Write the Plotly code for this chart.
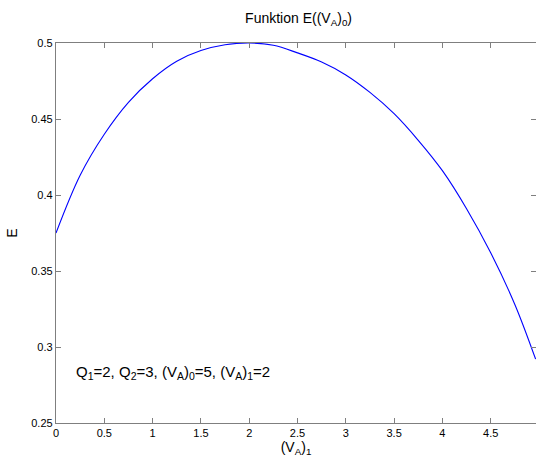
import plotly.graph_objects as go

# Data
va1 = [0.0, 0.25, 0.5, 0.75, 1.0, 1.25, 1.5, 1.75, 2.0, 2.25, 2.5, 2.75, 3.0, 3.25,
       3.5, 3.75, 4.0, 4.25, 4.5, 4.75, 4.965]
energy = [0.375, 0.413, 0.440, 0.461, 0.4765, 0.488, 0.495, 0.4988, 0.500, 0.4985, 0.4935, 0.4875, 0.479, 0.4675,
          0.4535, 0.436, 0.416, 0.391, 0.362, 0.328, 0.292]

x_ticks = [0, 0.5, 1, 1.5, 2, 2.5, 3, 3.5, 4, 4.5]
x_tick_labels = ["0", "0.5", "1", "1.5", "2", "2.5", "3", "3.5", "4", "4.5"]
y_ticks = [0.25, 0.3, 0.35, 0.4, 0.45, 0.5]
y_tick_labels = ["0.25", "0.3", "0.35", "0.4", "0.45", "0.5"]

title_text = "Funktion E((V<sub>A</sub>)<sub>0</sub>)"
x_label = "(V<sub>A</sub>)<sub>1</sub>"
y_label = "E"
note_text = "Q<sub>1</sub>=2, Q<sub>2</sub>=3, (V<sub>A</sub>)<sub>0</sub>=5, (V<sub>A</sub>)<sub>1</sub>=2"

FONT = "Liberation Sans, Arial, Helvetica, sans-serif"
AXCOL = "#7f7f7f"

fig = go.Figure()
fig.add_trace(go.Scatter(x=va1, y=energy, mode="lines",
                         line=dict(color="#0000ff", width=1.1, shape="spline", smoothing=1.0),
                         showlegend=False, hoverinfo="skip"))
fig.add_trace(go.Scatter(x=[va1[0]], y=[energy[0]], mode="markers", yaxis="y2",
                         marker=dict(opacity=0), showlegend=False, hoverinfo="skip"))

fig.update_layout(
    width=536, height=457,
    margin=dict(l=56, r=0, t=43, b=34),
    paper_bgcolor="white", plot_bgcolor="white",
    font=dict(family=FONT, size=11, color="black"),
    title=dict(text=title_text, x=0.557, xanchor="center", y=1 - 18 / 457, yanchor="middle",
               font=dict(size=14, family=FONT, color="black")),
    xaxis=dict(range=[0, 4.969], tickvals=x_ticks, ticktext=x_tick_labels,
               showgrid=False, zeroline=False, showline=True, linecolor=AXCOL, linewidth=1.3,
               mirror="ticks", ticks="inside", ticklen=5, tickcolor=AXCOL, tickwidth=1,
               tickfont=dict(size=11, family=FONT, color="black"),
               title=dict(text=x_label, font=dict(size=14, family=FONT, color="black"), standoff=1)),
    yaxis=dict(range=[0.25, 0.5], tickvals=y_ticks, ticktext=y_tick_labels,
               showgrid=False, zeroline=False, showline=True, linecolor=AXCOL, linewidth=1.3,
               mirror=False, ticks="inside", ticklen=5, tickcolor=AXCOL, tickwidth=1,
               tickfont=dict(size=11, family=FONT, color="black"),
               title=dict(text=y_label, font=dict(size=14, family=FONT, color="black"), standoff=10)),
    yaxis2=dict(range=[0.25, 0.5], tickvals=y_ticks, overlaying="y", side="right",
                showgrid=False, zeroline=False, showline=False, showticklabels=False,
                ticks="inside", ticklen=5, tickcolor=AXCOL, tickwidth=1),
    annotations=[dict(text=note_text, x=0.19, y=0.283, xref="x", yref="y",
                      xanchor="left", yanchor="middle", showarrow=False,
                      font=dict(size=15, family=FONT, color="black"))],
)

fig.write_html("out.html")
